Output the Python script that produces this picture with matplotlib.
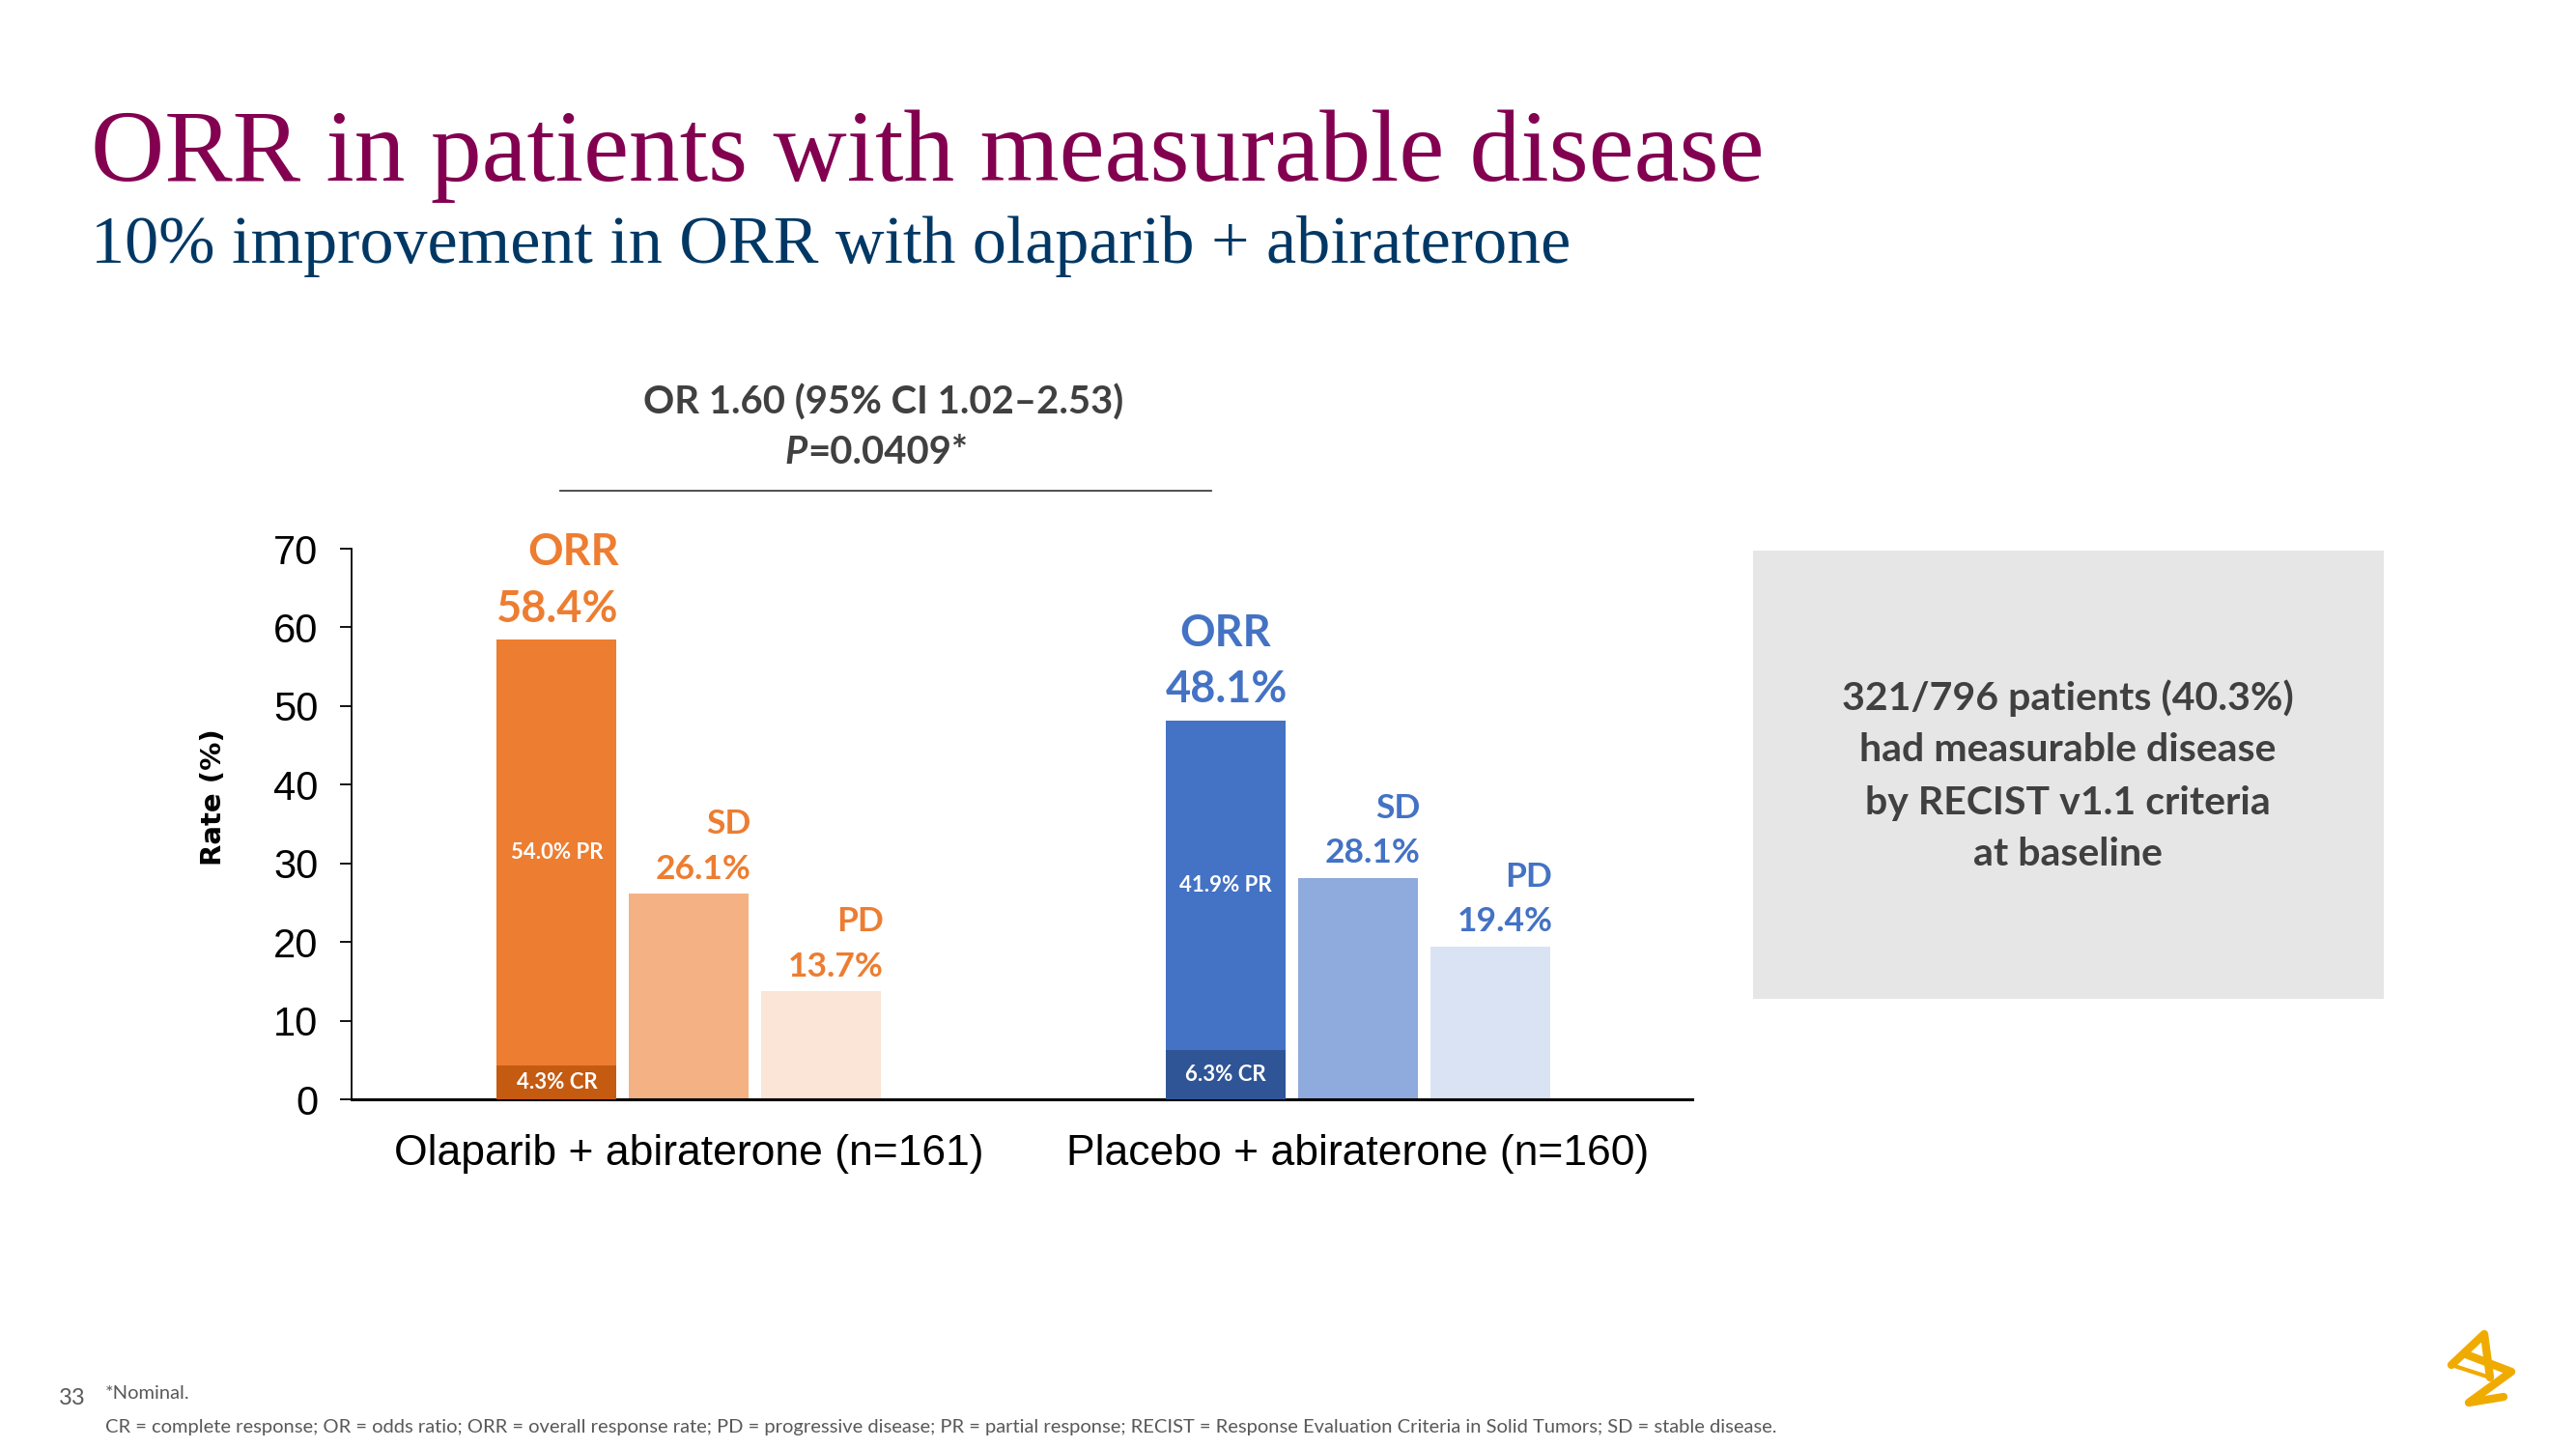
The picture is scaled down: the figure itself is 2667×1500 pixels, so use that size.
import numpy as np
import matplotlib
matplotlib.use("Agg")
import matplotlib.pyplot as plt
from matplotlib.patches import Rectangle

# data
groups = ["Olaparib + abiraterone (n=161)", "Placebo + abiraterone (n=160)"]
categories = ["ORR", "SD", "PD"]
values = [[58.4, 26.1, 13.7],
          [48.1, 28.1, 19.4]]
cr_values = [4.3, 6.3]
pr_values = [54.0, 41.9]
yticks = [0, 10, 20, 30, 40, 50, 60, 70]

orange = ["#ED7D31", "#F4B183", "#FBE5D6"]
blue = ["#4472C4", "#8FAADC", "#DAE3F3"]
group_colors = [orange, blue]
cr_colors = ["#C55A11", "#2F5597"]
label_colors = ["#ED7D31", "#4472C4"]

SANS = ["Lato", "DejaVu Sans"]
DARK = "#404040"

fig = plt.figure(figsize=(26.67, 15), dpi=100)
W, H = 2667, 1500

ax = fig.add_axes([364 / W, 1 - 1138 / H, 1388 / W, 570 / H])

width = 1.0
step = 1.105
group_x = np.array([0.0, 5.583])
offsets = np.array([-1, 0, 1]) * step

for g in range(len(groups)):
    xs = group_x[g] + offsets
    ax.bar(xs, values[g], width=width, color=group_colors[g], zorder=2)
    # CR part of the ORR bar
    ax.bar(xs[0], cr_values[g], width=width, color=cr_colors[g], zorder=3)
    ax.text(xs[0], cr_values[g] / 2, f"{cr_values[g]}% CR", ha="center", va="center",
            color="white", fontsize=16, fontweight="bold", family=SANS, zorder=4)
    pr_mid = cr_values[g] + (values[g][0] - cr_values[g]) / 2
    ax.text(xs[0], pr_mid, f"{pr_values[g]}% PR", ha="center", va="center",
            color="white", fontsize=16, fontweight="bold", family=SANS, zorder=4)

    for i, cat in enumerate(categories):
        right = xs[i] + width / 2 + 0.02
        big = (i == 0)
        fs = 32.5 if big else 25.5
        pct_off = 23 if big else 18.5
        cat_off = 65 if big else 52
        ax.annotate(f"{values[g][i]}%", (right, values[g][i]), xytext=(0, pct_off),
                    textcoords="offset points", ha="right", va="center",
                    color=label_colors[g], fontsize=fs, fontweight="bold", family=SANS)
        if big and g == 1:
            ax.annotate(cat, (xs[i], values[g][i]), xytext=(0, cat_off),
                        textcoords="offset points", ha="center", va="center",
                        color=label_colors[g], fontsize=fs, fontweight="bold", family=SANS)
        else:
            ax.annotate(cat, (right, values[g][i]), xytext=(0, cat_off),
                        textcoords="offset points", ha="right", va="center",
                        color=label_colors[g], fontsize=fs, fontweight="bold", family=SANS)

ax.set_xlim(-2.818, 8.375)
ax.set_ylim(0, 70)
ax.set_yticks(yticks)
ax.set_yticklabels([str(t) for t in yticks], family="Liberation Sans", fontsize=30)
ax.set_xticks(group_x)
ax.set_xticklabels(groups, family="Liberation Sans", fontsize=32)
ax.tick_params(axis="x", length=0, pad=26)
ax.tick_params(axis="y", length=9, width=1.3, pad=16)
for s in ["top", "right"]:
    ax.spines[s].set_visible(False)
ax.spines["left"].set_linewidth(1.3)
ax.spines["bottom"].set_linewidth(2.2)

# overlay in pixel coords for slide texts
ov = fig.add_axes([0, 0, 1, 1])
ov.set_xlim(0, W)
ov.set_ylim(H, 0)
ov.axis("off")

ov.text(94, 187, "ORR in patients with measurable disease", family="Liberation Serif",
        fontsize=76, color="#830051", ha="left", va="baseline")
ov.text(94, 272, "10% improvement in ORR with olaparib + abiraterone", family="Liberation Serif",
        fontsize=50.5, color="#003865", ha="left", va="baseline")

ov.text(915, 417, "OR 1.60 (95% CI 1.02\u20132.53)", ha="center", va="center",
        fontsize=28.8, fontweight="bold", family=SANS, color=DARK)
ov.text(836, 469, "P", ha="right", va="center", fontsize=28.8, fontweight="bold",
        style="italic", family=SANS, color=DARK)
ov.text(836, 469, "=0.0409*", ha="left", va="center", fontsize=28.8, fontweight="bold",
        family=SANS, color=DARK)
ov.plot([580, 1254], [508, 508], color=DARK, lw=1.3)

ov.text(221, 825, "Rate (%)", rotation=90, ha="center", va="center", fontsize=21,
        fontweight="bold", family="DejaVu Sans", color="black")

ov.add_patch(Rectangle((1815, 570), 653, 464, facecolor="#E6E6E6", edgecolor="none"))
box_lines = ["321/796 patients (40.3%)", "had measurable disease",
             "by RECIST v1.1 criteria", "at baseline"]
for k, line in enumerate(box_lines):
    ov.text(2141, 723 + k * 54, line, ha="center", va="center", fontsize=29.5,
            fontweight="bold", family=SANS, color=DARK)

ov.text(61, 1447, "33", ha="left", va="center", fontsize=17, family=SANS, color="#595959")
ov.text(109, 1442, "*Nominal.", ha="left", va="center", fontsize=14.5, family=SANS, color="#595959")
ov.text(109, 1478, "CR = complete response; OR = odds ratio; ORR = overall response rate; "
        "PD = progressive disease; PR = partial response; RECIST = Response Evaluation "
        "Criteria in Solid Tumors; SD = stable disease.",
        ha="left", va="center", fontsize=14.5, family=SANS, color="#595959")

# logo
gold = "#F0AB00"
ov.plot([2538, 2572, 2578], [1413, 1381, 1426], color=gold, lw=6,
        solid_capstyle="round", solid_joinstyle="round")
ov.plot([2538, 2578], [1413, 1426], color=gold, lw=3, solid_capstyle="round")
ov.plot([2553, 2600, 2556, 2592], [1402, 1420, 1452, 1446], color=gold, lw=6,
        solid_capstyle="round", solid_joinstyle="round")

fig.savefig("out.png", dpi=100)
